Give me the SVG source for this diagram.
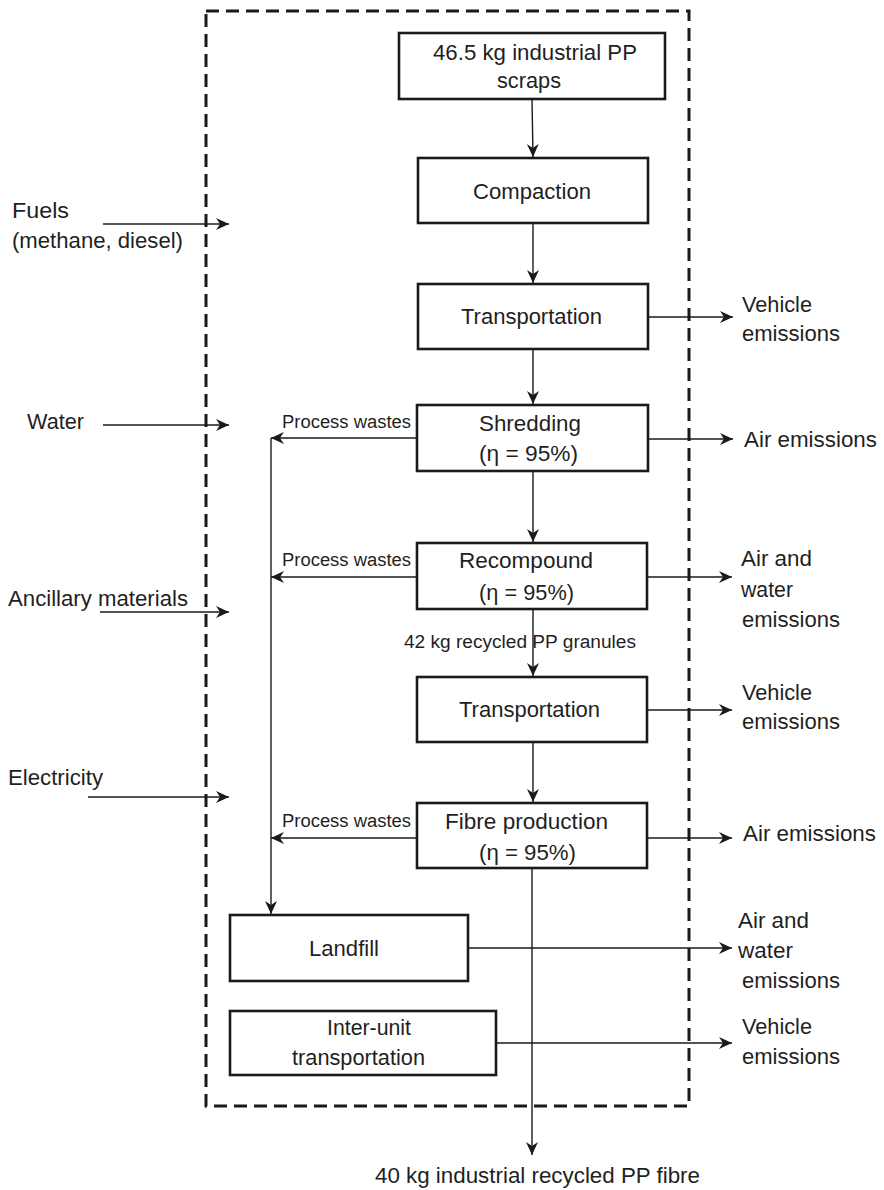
<svg xmlns="http://www.w3.org/2000/svg" width="884" height="1190" viewBox="0 0 884 1190">
<defs>
<marker id="ah" markerUnits="userSpaceOnUse" markerWidth="14" markerHeight="12" refX="13" refY="6" orient="auto">
<path d="M0,0 L13,6 L0,12 L4,6 Z" fill="#1a1a1a"/>
</marker>
<style>
.box{fill:#fff;stroke:#1a1a1a;stroke-width:2.6}
.arr{fill:none;stroke:#1a1a1a;stroke-width:1.4;marker-end:url(#ah)}
.dash{fill:none;stroke:#1a1a1a;stroke-width:3;stroke-dasharray:13 7}
text{font-family:"Liberation Sans",Arial,Helvetica,sans-serif;fill:#1f1f1f}
.t{font-size:22px}
.s{font-size:18px}
</style>
</defs>
<rect width="884" height="1190" fill="#fff"/>
<rect class="dash" x="206" y="11" width="483" height="1095"/>

<g id="connectors">
<line class="arr" x1="532" y1="99" x2="533" y2="157"/>
<line class="arr" x1="533" y1="223" x2="533" y2="283"/>
<line class="arr" x1="533" y1="349" x2="533" y2="404"/>
<line class="arr" x1="533" y1="471" x2="533" y2="542"/>
<line class="arr" x1="533" y1="609" x2="533" y2="676"/>
<line class="arr" x1="533" y1="742" x2="533" y2="802"/>
<line class="arr" x1="532" y1="868" x2="532" y2="1155"/>
<line class="arr" x1="103" y1="224" x2="229" y2="224"/>
<line class="arr" x1="103" y1="425" x2="229" y2="425"/>
<line class="arr" x1="100" y1="612" x2="229" y2="612"/>
<line class="arr" x1="88" y1="797" x2="229" y2="797"/>
<line class="arr" x1="417" y1="438" x2="271" y2="438"/>
<line class="arr" x1="417" y1="577" x2="271" y2="577"/>
<line class="arr" x1="417" y1="838" x2="271" y2="838"/>
<line class="arr" x1="271" y1="438" x2="271" y2="914"/>
<line class="arr" x1="648" y1="317" x2="733" y2="317"/>
<line class="arr" x1="648" y1="439" x2="733" y2="439"/>
<line class="arr" x1="647" y1="577" x2="732" y2="577"/>
<line class="arr" x1="647" y1="710" x2="732" y2="710"/>
<line class="arr" x1="647" y1="838" x2="732" y2="838"/>
<line class="arr" x1="468" y1="948" x2="732" y2="948"/>
<line class="arr" x1="496" y1="1043" x2="732" y2="1043"/>
</g>

<g id="n-scraps">
<rect class="box" x="399" y="33" width="266" height="66"/>
<text class="t" x="433" y="60" textLength="204" lengthAdjust="spacingAndGlyphs">46.5 kg industrial PP</text>
<text class="t" x="497" y="88" textLength="64" lengthAdjust="spacingAndGlyphs">scraps</text>
</g>
<g id="n-compaction">
<rect class="box" x="418" y="158" width="230" height="65"/>
<text class="t" x="473" y="199" textLength="118" lengthAdjust="spacingAndGlyphs">Compaction</text>
</g>
<g id="n-transport1">
<rect class="box" x="418" y="284" width="230" height="65"/>
<text class="t" x="461" y="324" textLength="141" lengthAdjust="spacingAndGlyphs">Transportation</text>
</g>
<g id="n-shredding">
<rect class="box" x="417" y="405" width="231" height="66"/>
<text class="t" x="479" y="431" textLength="102" lengthAdjust="spacingAndGlyphs">Shredding</text>
<text class="t" x="479" y="461" textLength="99" lengthAdjust="spacingAndGlyphs">(η = 95%)</text>
</g>
<g id="n-recompound">
<rect class="box" x="417" y="543" width="230" height="66"/>
<text class="t" x="459" y="568" textLength="134" lengthAdjust="spacingAndGlyphs">Recompound</text>
<text class="t" x="479" y="600" textLength="95" lengthAdjust="spacingAndGlyphs">(η = 95%)</text>
</g>
<g id="n-transport2">
<rect class="box" x="417" y="677" width="230" height="65"/>
<text class="t" x="459" y="717" textLength="141" lengthAdjust="spacingAndGlyphs">Transportation</text>
</g>
<g id="n-fibre">
<rect class="box" x="417" y="803" width="230" height="65"/>
<text class="t" x="445" y="829" textLength="163" lengthAdjust="spacingAndGlyphs">Fibre production</text>
<text class="t" x="479" y="860" textLength="97" lengthAdjust="spacingAndGlyphs">(η = 95%)</text>
</g>
<g id="n-landfill">
<rect class="box" x="230" y="915" width="238" height="66"/>
<text class="t" x="309" y="956" textLength="70" lengthAdjust="spacingAndGlyphs">Landfill</text>
</g>
<g id="n-interunit">
<rect class="box" x="230" y="1011" width="266" height="64"/>
<text class="t" x="327" y="1035" textLength="84" lengthAdjust="spacingAndGlyphs">Inter-unit</text>
<text class="t" x="292" y="1065" textLength="133" lengthAdjust="spacingAndGlyphs">transportation</text>
</g>

<g id="inputs">
<text class="t" x="12" y="218" textLength="57" lengthAdjust="spacingAndGlyphs">Fuels</text>
<text class="t" x="12" y="248" textLength="171" lengthAdjust="spacingAndGlyphs">(methane, diesel)</text>
<text class="t" x="27" y="429" textLength="57" lengthAdjust="spacingAndGlyphs">Water</text>
<text class="t" x="8" y="606" textLength="180" lengthAdjust="spacingAndGlyphs">Ancillary materials</text>
<text class="t" x="8" y="785" textLength="95" lengthAdjust="spacingAndGlyphs">Electricity</text>
</g>

<g id="labels">
<text class="s" x="282" y="428" textLength="129" lengthAdjust="spacingAndGlyphs">Process wastes</text>
<text class="s" x="282" y="566" textLength="129" lengthAdjust="spacingAndGlyphs">Process wastes</text>
<text class="s" x="282" y="827" textLength="129" lengthAdjust="spacingAndGlyphs">Process wastes</text>
<text class="s" x="404" y="648" textLength="232" lengthAdjust="spacingAndGlyphs">42 kg  recycled PP granules</text>
<text class="t" x="375" y="1183" textLength="325" lengthAdjust="spacingAndGlyphs">40 kg industrial recycled PP fibre</text>
</g>

<g id="outputs">
<text class="t" x="742" y="312" textLength="70" lengthAdjust="spacingAndGlyphs">Vehicle</text>
<text class="t" x="742" y="341" textLength="98" lengthAdjust="spacingAndGlyphs">emissions</text>
<text class="t" x="744" y="447" textLength="133" lengthAdjust="spacingAndGlyphs">Air emissions</text>
<text class="t" x="741" y="566" textLength="71" lengthAdjust="spacingAndGlyphs">Air and</text>
<text class="t" x="741" y="597" textLength="52" lengthAdjust="spacingAndGlyphs">water</text>
<text class="t" x="742" y="627" textLength="98" lengthAdjust="spacingAndGlyphs">emissions</text>
<text class="t" x="742" y="700" textLength="70" lengthAdjust="spacingAndGlyphs">Vehicle</text>
<text class="t" x="742" y="729" textLength="98" lengthAdjust="spacingAndGlyphs">emissions</text>
<text class="t" x="743" y="841" textLength="133" lengthAdjust="spacingAndGlyphs">Air emissions</text>
<text class="t" x="738" y="928" textLength="71" lengthAdjust="spacingAndGlyphs">Air and</text>
<text class="t" x="738" y="958" textLength="55" lengthAdjust="spacingAndGlyphs">water</text>
<text class="t" x="742" y="988" textLength="98" lengthAdjust="spacingAndGlyphs">emissions</text>
<text class="t" x="742" y="1034" textLength="70" lengthAdjust="spacingAndGlyphs">Vehicle</text>
<text class="t" x="742" y="1064" textLength="98" lengthAdjust="spacingAndGlyphs">emissions</text>
</g>
</svg>
